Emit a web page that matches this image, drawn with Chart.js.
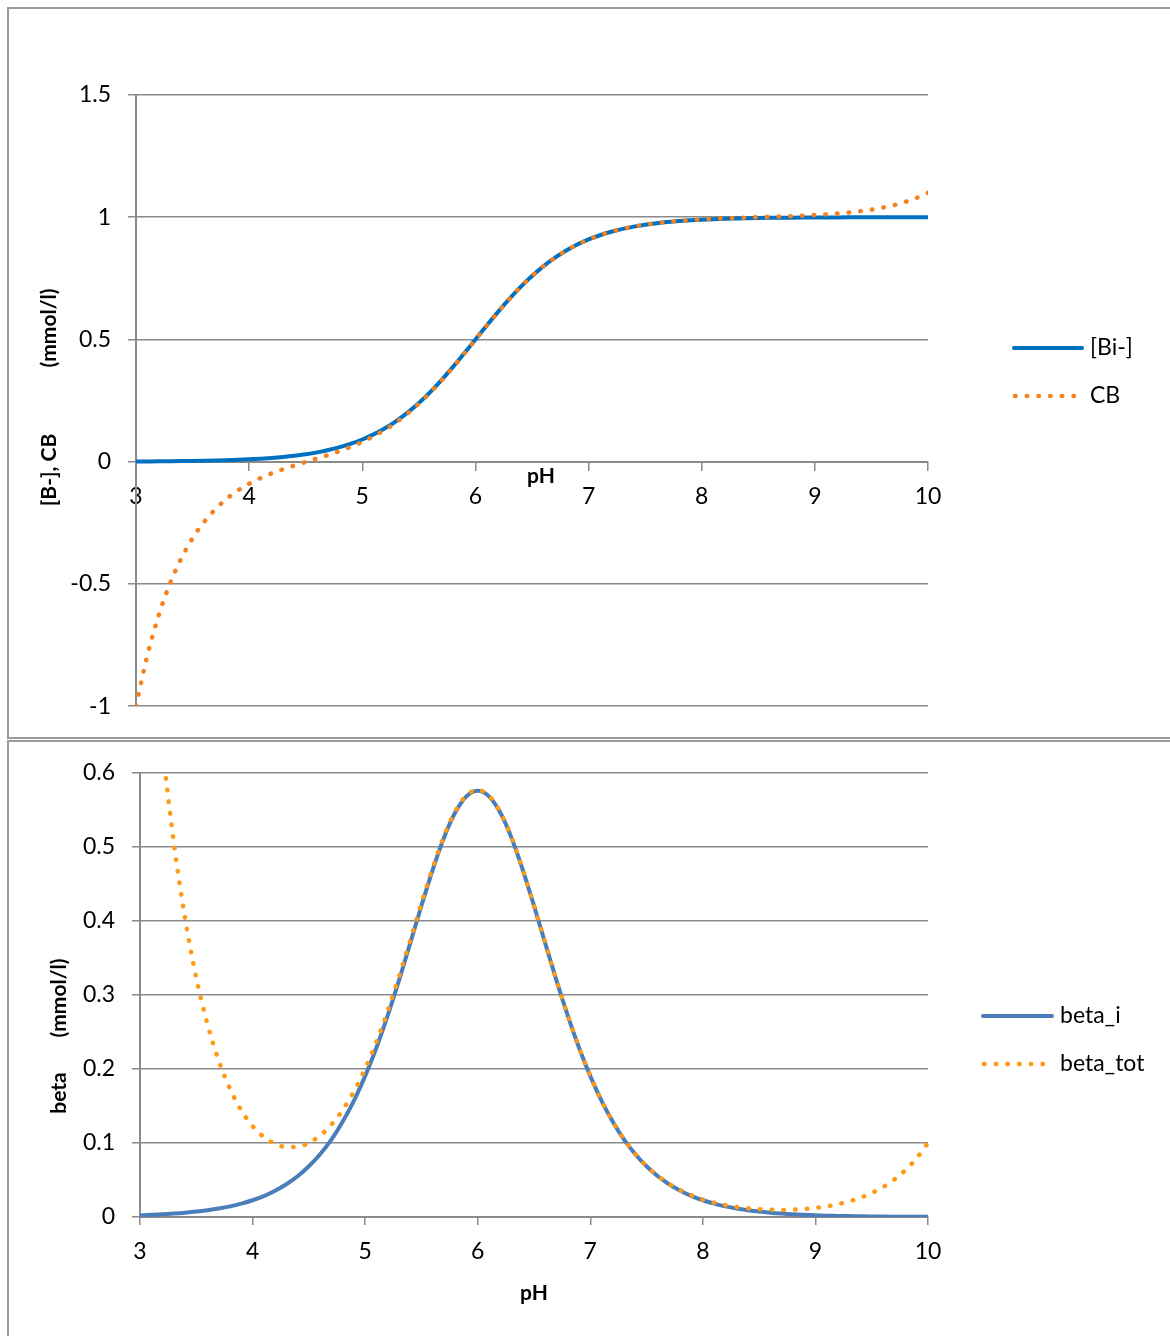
<!DOCTYPE html>
<html>
<head>
<meta charset="utf-8">
<script src="https://cdn.jsdelivr.net/npm/chart.js@4.4.1/dist/chart.umd.min.js"></script>
<style>
  body { margin: 0; background: #fff; width: 1170px; height: 1336px; overflow: hidden; position: relative; }
  .box { position: absolute; border: 2px solid #9b9b9b; box-sizing: border-box; }
  #boxTop { left: 7px; top: 7px; width: 1200px; height: 732px; }
  #boxBottom { left: 7px; top: 740px; width: 1200px; height: 640px; }
  canvas { position: absolute; }
  #chartTop { left: 9px; top: 9px; }
  #chartBottom { left: 9px; top: 742px; }
</style>
</head>
<body>
<div class="box" id="boxTop"></div>
<div class="box" id="boxBottom"></div>
<canvas id="chartTop" width="1161" height="728"></canvas>
<canvas id="chartBottom" width="1161" height="594"></canvas>
<script>
// pH values shared by all four curves
const pH = [
  3.0, 3.1, 3.2, 3.3, 3.4, 3.5, 3.6, 3.7, 3.8, 3.9,
  4.0, 4.1, 4.2, 4.3, 4.4, 4.5, 4.6, 4.7, 4.8, 4.9,
  5.0, 5.1, 5.2, 5.3, 5.4, 5.5, 5.6, 5.7, 5.8, 5.9,
  6.0, 6.1, 6.2, 6.3, 6.4, 6.5, 6.6, 6.7, 6.8, 6.9,
  7.0, 7.1, 7.2, 7.3, 7.4, 7.5, 7.6, 7.7, 7.8, 7.9,
  8.0, 8.1, 8.2, 8.3, 8.4, 8.5, 8.6, 8.7, 8.8, 8.9,
  9.0, 9.1, 9.2, 9.3, 9.4, 9.5, 9.6, 9.7, 9.8, 9.9,
  10.0
];

// top chart (mmol/l)
const biMinus = [
  0.001, 0.0013, 0.0016, 0.002, 0.0025, 0.0032, 0.004, 0.005, 0.0063, 0.0079,
  0.0099, 0.0124, 0.0156, 0.0196, 0.0245, 0.0307, 0.0383, 0.0477, 0.0594, 0.0736,
  0.0909, 0.1118, 0.1368, 0.1663, 0.2008, 0.2403, 0.2847, 0.3339, 0.3869, 0.4427,
  0.5, 0.5573, 0.6131, 0.6661, 0.7153, 0.7597, 0.7992, 0.8337, 0.8632, 0.8882,
  0.9091, 0.9264, 0.9406, 0.9523, 0.9617, 0.9693, 0.9755, 0.9804, 0.9844, 0.9876,
  0.9901, 0.9921, 0.9937, 0.995, 0.996, 0.9968, 0.9975, 0.998, 0.9984, 0.9987,
  0.999, 0.9992, 0.9994, 0.9995, 0.9996, 0.9997, 0.9997, 0.9998, 0.9998, 0.9999,
  0.9999
];
const cbValues = [
  -0.999, -0.793, -0.629, -0.499, -0.396, -0.313, -0.247, -0.195, -0.152, -0.118,
  -0.09, -0.067, -0.0475, -0.0305, -0.0153, -0.0009, 0.0132, 0.0277, 0.0436, 0.061,
  0.0809, 0.1039, 0.1305, 0.1613, 0.1968, 0.2371, 0.2822, 0.3319, 0.3853, 0.4414,
  0.499, 0.5565, 0.6125, 0.6656, 0.7149, 0.7594, 0.7989, 0.8335, 0.863, 0.8881,
  0.909, 0.9265, 0.9408, 0.9525, 0.962, 0.9696, 0.9759, 0.9809, 0.985, 0.9884,
  0.9911, 0.9934, 0.9953, 0.997, 0.9985, 1.0, 1.0015, 1.003, 1.0047, 1.0066,
  1.009, 1.0118, 1.0152, 1.0195, 1.0247, 1.0313, 1.0395, 1.0499, 1.0629, 1.0793,
  1.0999
];

// bottom chart (mmol/l)
const betaI = [
  0.0023, 0.0029, 0.0036, 0.0046, 0.0058, 0.0073, 0.0092, 0.0115, 0.0144, 0.0181,
  0.0226, 0.0282, 0.0354, 0.0443, 0.055, 0.0685, 0.0848, 0.1046, 0.1287, 0.157,
  0.1903, 0.2287, 0.272, 0.3193, 0.3696, 0.4204, 0.469, 0.5122, 0.5463, 0.5682,
  0.5758, 0.5682, 0.5463, 0.5122, 0.469, 0.4204, 0.3696, 0.3193, 0.272, 0.2287,
  0.1903, 0.157, 0.1287, 0.1046, 0.0848, 0.0685, 0.055, 0.0443, 0.0354, 0.0282,
  0.0226, 0.0181, 0.0144, 0.0115, 0.0092, 0.0073, 0.0058, 0.0046, 0.0036, 0.0029,
  0.0023, 0.0018, 0.0015, 0.0012, 0.0009, 0.0007, 0.0006, 0.0005, 0.0004, 0.0003,
  0.0002
];
const betaTot = [
  1.0023, 0.797, 0.635, 0.506, 0.404, 0.323, 0.26, 0.211, 0.173, 0.144,
  0.123, 0.108, 0.099, 0.0944, 0.0948, 0.1001, 0.1099, 0.1246, 0.1445, 0.1696,
  0.2003, 0.2366, 0.2783, 0.3243, 0.3736, 0.4236, 0.4715, 0.5142, 0.5479, 0.5695,
  0.5768, 0.569, 0.5469, 0.5127, 0.4694, 0.4207, 0.3699, 0.3195, 0.2722, 0.2289,
  0.1905, 0.1572, 0.1289, 0.1048, 0.0851, 0.0688, 0.0554, 0.0448, 0.036, 0.029,
  0.0236, 0.0194, 0.016, 0.0135, 0.0117, 0.0105, 0.0098, 0.0096, 0.0099, 0.0108,
  0.0123, 0.0144, 0.0173, 0.0212, 0.026, 0.0323, 0.0404, 0.0506, 0.0635, 0.0797,
  0.1002
];

const axisGrey = '#8a8a8a';
const dots = [0.5, 11.2];
Chart.defaults.font.family = 'Lato';
Chart.defaults.color = '#000';

function points(ys) {
  return pH.map((x, i) => ({ x: x, y: ys[i] }));
}

// Excel style: 1 not 1.0
function tickText(v) {
  return String(Math.round(v * 10) / 10);
}

// titles + legend drawn at fixed spots, like the Excel layout
function overlay(cfg) {
  return {
    id: 'overlay',
    afterDraw(chart) {
      const ctx = chart.ctx;
      ctx.save();
      ctx.fillStyle = '#000';
      ctx.textBaseline = 'middle';
      ctx.textAlign = 'center';
      ctx.font = 'bold 21px Lato';
      ctx.fillText('pH', cfg.xTitle[0], cfg.xTitle[1]);
      cfg.yTitle.forEach(([txt, y]) => {
        ctx.save();
        ctx.translate(cfg.yTitleX, y);
        ctx.rotate(-Math.PI / 2);
        ctx.fillText(txt, 0, 0);
        ctx.restore();
      });
      chart.data.datasets.forEach((ds, i) => {
        const [x0, x1, y] = cfg.legend[i];
        ctx.beginPath();
        ctx.strokeStyle = ds.borderColor;
        ctx.lineWidth = ds.borderWidth;
        ctx.lineCap = 'round';
        ctx.setLineDash(ds.borderDash || []);
        ctx.moveTo(x0, y);
        ctx.lineTo(x1, y);
        ctx.stroke();
        ctx.setLineDash([]);
        ctx.font = '23px Lato';
        ctx.textAlign = 'left';
        ctx.fillText(ds.label, cfg.legendTextX, y);
      });
      ctx.restore();
    }
  };
}

function showTop() {
  const ctx = document.getElementById('chartTop').getContext('2d');
  new Chart(ctx, {
    type: 'line',
    data: {
      datasets: [
        {
          label: '[Bi-]',
          data: points(biMinus),
          borderColor: '#0070C0',
          borderWidth: 4,
          borderCapStyle: 'round',
          pointRadius: 0,
          cubicInterpolationMode: 'monotone',
          order: 1
        },
        {
          label: 'CB',
          data: points(cbValues),
          borderColor: '#F5821F',
          borderWidth: 4.5,
          borderDash: dots,
          borderCapStyle: 'round',
          pointRadius: 0,
          cubicInterpolationMode: 'monotone',
          order: 0
        }
      ]
    },
    options: {
      responsive: false,
      animation: false,
      layout: { padding: { top: 86, right: 242, bottom: 30, left: 0 } },
      scales: {
        x: {
          type: 'linear',
          min: 3,
          max: 10,
          position: { y: 0 },
          ticks: { stepSize: 1, padding: 13, font: { size: 23 } },
          grid: { drawOnChartArea: false, tickLength: 8, color: axisGrey, lineWidth: 1.5 },
          border: { color: axisGrey, width: 2 }
        },
        y: {
          min: -1,
          max: 1.5,
          ticks: { stepSize: 0.5, padding: 17, font: { size: 23 }, callback: tickText },
          grid: { tickLength: 8, color: axisGrey, lineWidth: 1.5 },
          border: { color: axisGrey, width: 2 },
          afterFit(scale) { scale.width = 127; }
        }
      },
      plugins: {
        legend: { display: false },
        tooltip: { enabled: false }
      }
    },
    plugins: [overlay({
      xTitle: [532, 467],
      yTitleX: 40,
      yTitle: [['(mmol/l)', 319], ['[B-], CB', 461]],
      legend: [[1005, 1073, 339], [1006, 1068, 387]],
      legendTextX: 1081
    })]
  });
}

function showBottom() {
  const ctx = document.getElementById('chartBottom').getContext('2d');
  new Chart(ctx, {
    type: 'line',
    data: {
      datasets: [
        {
          label: 'beta_i',
          data: points(betaI),
          borderColor: '#4A7EBB',
          borderWidth: 4,
          borderCapStyle: 'round',
          pointRadius: 0,
          cubicInterpolationMode: 'monotone',
          order: 1
        },
        {
          label: 'beta_tot',
          data: points(betaTot),
          borderColor: '#FF9A14',
          borderWidth: 4.5,
          borderDash: dots,
          borderCapStyle: 'round',
          pointRadius: 0,
          cubicInterpolationMode: 'monotone',
          clip: { left: 6, top: 0, right: 6, bottom: 6 },
          order: 0
        }
      ]
    },
    options: {
      responsive: false,
      animation: false,
      layout: { padding: { top: 28, right: 242, bottom: 0, left: 0 } },
      scales: {
        x: {
          type: 'linear',
          min: 3,
          max: 10,
          ticks: { stepSize: 1, padding: 13, font: { size: 23 } },
          grid: { drawOnChartArea: false, tickLength: 8, color: axisGrey, lineWidth: 1.5 },
          border: { color: axisGrey, width: 2 },
          afterFit(scale) { scale.height = 119; }
        },
        y: {
          min: 0,
          max: 0.6,
          ticks: { stepSize: 0.1, padding: 17, font: { size: 23 }, callback: tickText },
          grid: { tickLength: 8, color: axisGrey, lineWidth: 1.5 },
          border: { color: axisGrey, width: 2 },
          afterFit(scale) { scale.width = 131; }
        }
      },
      plugins: {
        legend: { display: false },
        tooltip: { enabled: false }
      }
    },
    plugins: [overlay({
      xTitle: [525, 551],
      yTitleX: 50,
      yTitle: [['(mmol/l)', 256], ['beta', 351]],
      legend: [[974, 1043, 274], [975, 1037, 322]],
      legendTextX: 1051
    })]
  });
}

showTop();
showBottom();
</script>
</body>
</html>
